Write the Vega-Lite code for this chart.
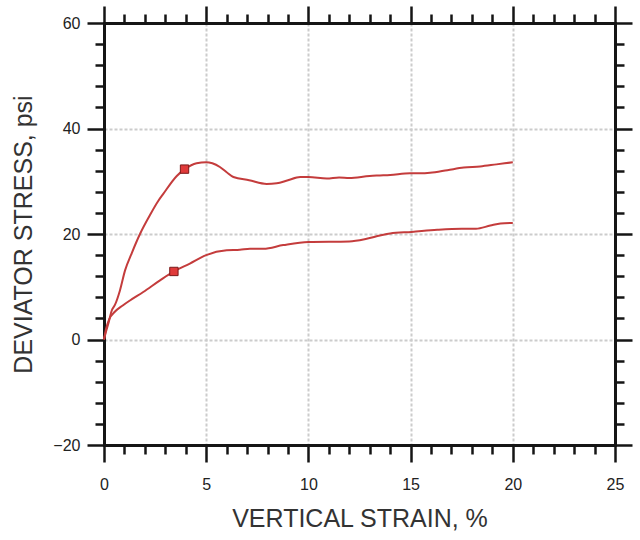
{
  "$schema": "https://vega.github.io/schema/vega-lite/v6.json",
  "autosize": {"type": "none"},
  "padding": {"left": 104, "top": 23, "right": 25, "bottom": 95},
  "width": 511,
  "height": 422,
  "background": "white",
  "config": {
    "view": {"stroke": null},
    "font": "Liberation Sans",
    "axis": {
      "labelFont": "Liberation Sans",
      "titleFont": "Liberation Sans",
      "labelColor": "#222222",
      "titleColor": "#333333",
      "titleFontWeight": "normal",
      "tickColor": "#151515",
      "domainColor": "#151515",
      "domainWidth": 3,
      "domainCap": "square",
      "tickWidth": 2.5,
      "labelFontSize": 16,
      "titleFontSize": 25,
      "gridColor": "#cccccc",
      "gridWidth": 2,
      "gridDash": [3, 2]
    }
  },
  "datasets": {
    "curves": [
      {"series": "upper", "strain": 0, "stress": 0},
      {"series": "upper", "strain": 0.1, "stress": 1.5},
      {"series": "upper", "strain": 0.21, "stress": 3.0},
      {"series": "upper", "strain": 0.38, "stress": 5.5},
      {"series": "upper", "strain": 0.54, "stress": 6.6},
      {"series": "upper", "strain": 0.78, "stress": 9.3},
      {"series": "upper", "strain": 1.03, "stress": 13.1},
      {"series": "upper", "strain": 1.35, "stress": 16.3},
      {"series": "upper", "strain": 1.76, "stress": 20.0},
      {"series": "upper", "strain": 2.25, "stress": 23.6},
      {"series": "upper", "strain": 2.66, "stress": 26.3},
      {"series": "upper", "strain": 2.9, "stress": 27.6},
      {"series": "upper", "strain": 3.56, "stress": 31.0},
      {"series": "upper", "strain": 3.96, "stress": 32.3},
      {"series": "upper", "strain": 4.53, "stress": 33.4},
      {"series": "upper", "strain": 5.0, "stress": 33.6},
      {"series": "upper", "strain": 5.3, "stress": 33.4},
      {"series": "upper", "strain": 5.67, "stress": 32.7},
      {"series": "upper", "strain": 6.0, "stress": 31.7},
      {"series": "upper", "strain": 6.33, "stress": 30.8},
      {"series": "upper", "strain": 7.1, "stress": 30.2},
      {"series": "upper", "strain": 7.96, "stress": 29.5},
      {"series": "upper", "strain": 8.45, "stress": 29.6},
      {"series": "upper", "strain": 9.0, "stress": 30.2},
      {"series": "upper", "strain": 9.6, "stress": 30.8},
      {"series": "upper", "strain": 10.0, "stress": 30.8},
      {"series": "upper", "strain": 10.9, "stress": 30.5},
      {"series": "upper", "strain": 11.5, "stress": 30.7},
      {"series": "upper", "strain": 12.0, "stress": 30.6},
      {"series": "upper", "strain": 13.0, "stress": 31.0},
      {"series": "upper", "strain": 13.5, "stress": 31.1},
      {"series": "upper", "strain": 14.0, "stress": 31.2},
      {"series": "upper", "strain": 14.97, "stress": 31.5},
      {"series": "upper", "strain": 15.5, "stress": 31.5},
      {"series": "upper", "strain": 15.95, "stress": 31.6},
      {"series": "upper", "strain": 16.8, "stress": 32.1},
      {"series": "upper", "strain": 17.6, "stress": 32.6},
      {"series": "upper", "strain": 18.4, "stress": 32.8},
      {"series": "upper", "strain": 19.2, "stress": 33.2},
      {"series": "upper", "strain": 20.0, "stress": 33.6},
      {"series": "lower", "strain": 0, "stress": 0},
      {"series": "lower", "strain": 0.1, "stress": 2.0},
      {"series": "lower", "strain": 0.25, "stress": 3.8},
      {"series": "lower", "strain": 0.54, "stress": 5.3},
      {"series": "lower", "strain": 0.9, "stress": 6.4},
      {"series": "lower", "strain": 1.27, "stress": 7.4},
      {"series": "lower", "strain": 1.92, "stress": 9.0},
      {"series": "lower", "strain": 2.74, "stress": 11.2},
      {"series": "lower", "strain": 3.42, "stress": 12.9},
      {"series": "lower", "strain": 4.2, "stress": 14.4},
      {"series": "lower", "strain": 5.0, "stress": 16.0},
      {"series": "lower", "strain": 6.0, "stress": 16.9},
      {"series": "lower", "strain": 6.65, "stress": 17.0},
      {"series": "lower", "strain": 7.14, "stress": 17.2},
      {"series": "lower", "strain": 7.8, "stress": 17.2},
      {"series": "lower", "strain": 8.77, "stress": 17.9},
      {"series": "lower", "strain": 10.0, "stress": 18.5},
      {"series": "lower", "strain": 12.0, "stress": 18.6},
      {"series": "lower", "strain": 12.85, "stress": 19.1},
      {"series": "lower", "strain": 13.5, "stress": 19.7},
      {"series": "lower", "strain": 14.0, "stress": 20.1},
      {"series": "lower", "strain": 15.05, "stress": 20.4},
      {"series": "lower", "strain": 16.3, "stress": 20.8},
      {"series": "lower", "strain": 17.5, "stress": 21.0},
      {"series": "lower", "strain": 18.2, "stress": 21.0},
      {"series": "lower", "strain": 18.9, "stress": 21.6},
      {"series": "lower", "strain": 19.4, "stress": 22.0},
      {"series": "lower", "strain": 20.0, "stress": 22.1}
    ],
    "markers": [
      {"series": "upper", "strain": 3.94, "stress": 32.3},
      {"series": "lower", "strain": 3.42, "stress": 12.9}
    ]
  },
  "resolve": {"axis": {"x": "independent", "y": "independent"}},
  "layer": [
    {
      "data": {"name": "curves"},
      "mark": {"type": "line", "color": "#c43c3c", "strokeWidth": 2, "interpolate": "monotone"},
      "encoding": {
        "x": {"field": "strain", "type": "quantitative",
          "scale": {"domain": [0, 25], "nice": false, "zero": false},
          "axis": {"orient": "bottom", "values": [0, 5, 10, 15, 20, 25], "tickSize": 17, "labelPadding": 14,
            "grid": true, "domain": true, "title": "VERTICAL STRAIN, %", "titlePadding": 14, "labelFlush": false, "labelOverlap": false}},
        "y": {"field": "stress", "type": "quantitative",
          "scale": {"domain": [-20, 60], "nice": false, "zero": false},
          "axis": {"orient": "left", "values": [-20, 0, 20, 40, 60], "tickSize": 17, "labelPadding": 7,
            "grid": true, "domain": true, "title": "DEVIATOR STRESS, psi", "titlePadding": 16, "labelFlush": false, "labelOverlap": false}},
        "detail": {"field": "series"}
      }
    },
    {
      "data": {"name": "markers"},
      "mark": {"type": "square", "filled": true, "color": "#e03a3a", "stroke": "#7a1a1a", "strokeWidth": 1, "size": 70, "opacity": 1},
      "encoding": {
        "x": {"field": "strain", "type": "quantitative",
          "scale": {"domain": [0, 25], "nice": false, "zero": false},
          "axis": {"orient": "bottom", "values": [1, 2, 3, 4, 6, 7, 8, 9, 11, 12, 13, 14, 16, 17, 18, 19, 21, 22, 23, 24],
            "tickSize": 9, "labels": false, "domain": false, "grid": false, "title": null}},
        "y": {"field": "stress", "type": "quantitative",
          "scale": {"domain": [-20, 60], "nice": false, "zero": false},
          "axis": {"orient": "left", "values": [-16, -12, -8, -4, 4, 8, 12, 16, 24, 28, 32, 36, 44, 48, 52, 56],
            "tickSize": 9, "labels": false, "domain": false, "grid": false, "title": null}}
      }
    },
    {
      "data": {"name": "curves"},
      "mark": {"type": "line", "strokeOpacity": 0},
      "encoding": {
        "x": {"field": "strain", "type": "quantitative",
          "scale": {"domain": [0, 25], "nice": false, "zero": false},
          "axis": {"orient": "top", "values": [0, 5, 10, 15, 20, 25], "tickSize": 17, "labels": false, "domain": true, "grid": false, "title": null}},
        "y": {"field": "stress", "type": "quantitative",
          "scale": {"domain": [-20, 60], "nice": false, "zero": false},
          "axis": {"orient": "right", "values": [-20, 0, 20, 40, 60], "tickSize": 17, "labels": false, "domain": true, "grid": false, "title": null}},
        "detail": {"field": "series"}
      }
    },
    {
      "data": {"name": "curves"},
      "mark": {"type": "line", "strokeOpacity": 0},
      "encoding": {
        "x": {"field": "strain", "type": "quantitative",
          "scale": {"domain": [0, 25], "nice": false, "zero": false},
          "axis": {"orient": "top", "values": [1, 2, 3, 4, 6, 7, 8, 9, 11, 12, 13, 14, 16, 17, 18, 19, 21, 22, 23, 24],
            "tickSize": 9, "labels": false, "domain": false, "grid": false, "title": null}},
        "y": {"field": "stress", "type": "quantitative",
          "scale": {"domain": [-20, 60], "nice": false, "zero": false},
          "axis": {"orient": "right", "values": [-16, -12, -8, -4, 4, 8, 12, 16, 24, 28, 32, 36, 44, 48, 52, 56],
            "tickSize": 9, "labels": false, "domain": false, "grid": false, "title": null}},
        "detail": {"field": "series"}
      }
    }
  ]
}
